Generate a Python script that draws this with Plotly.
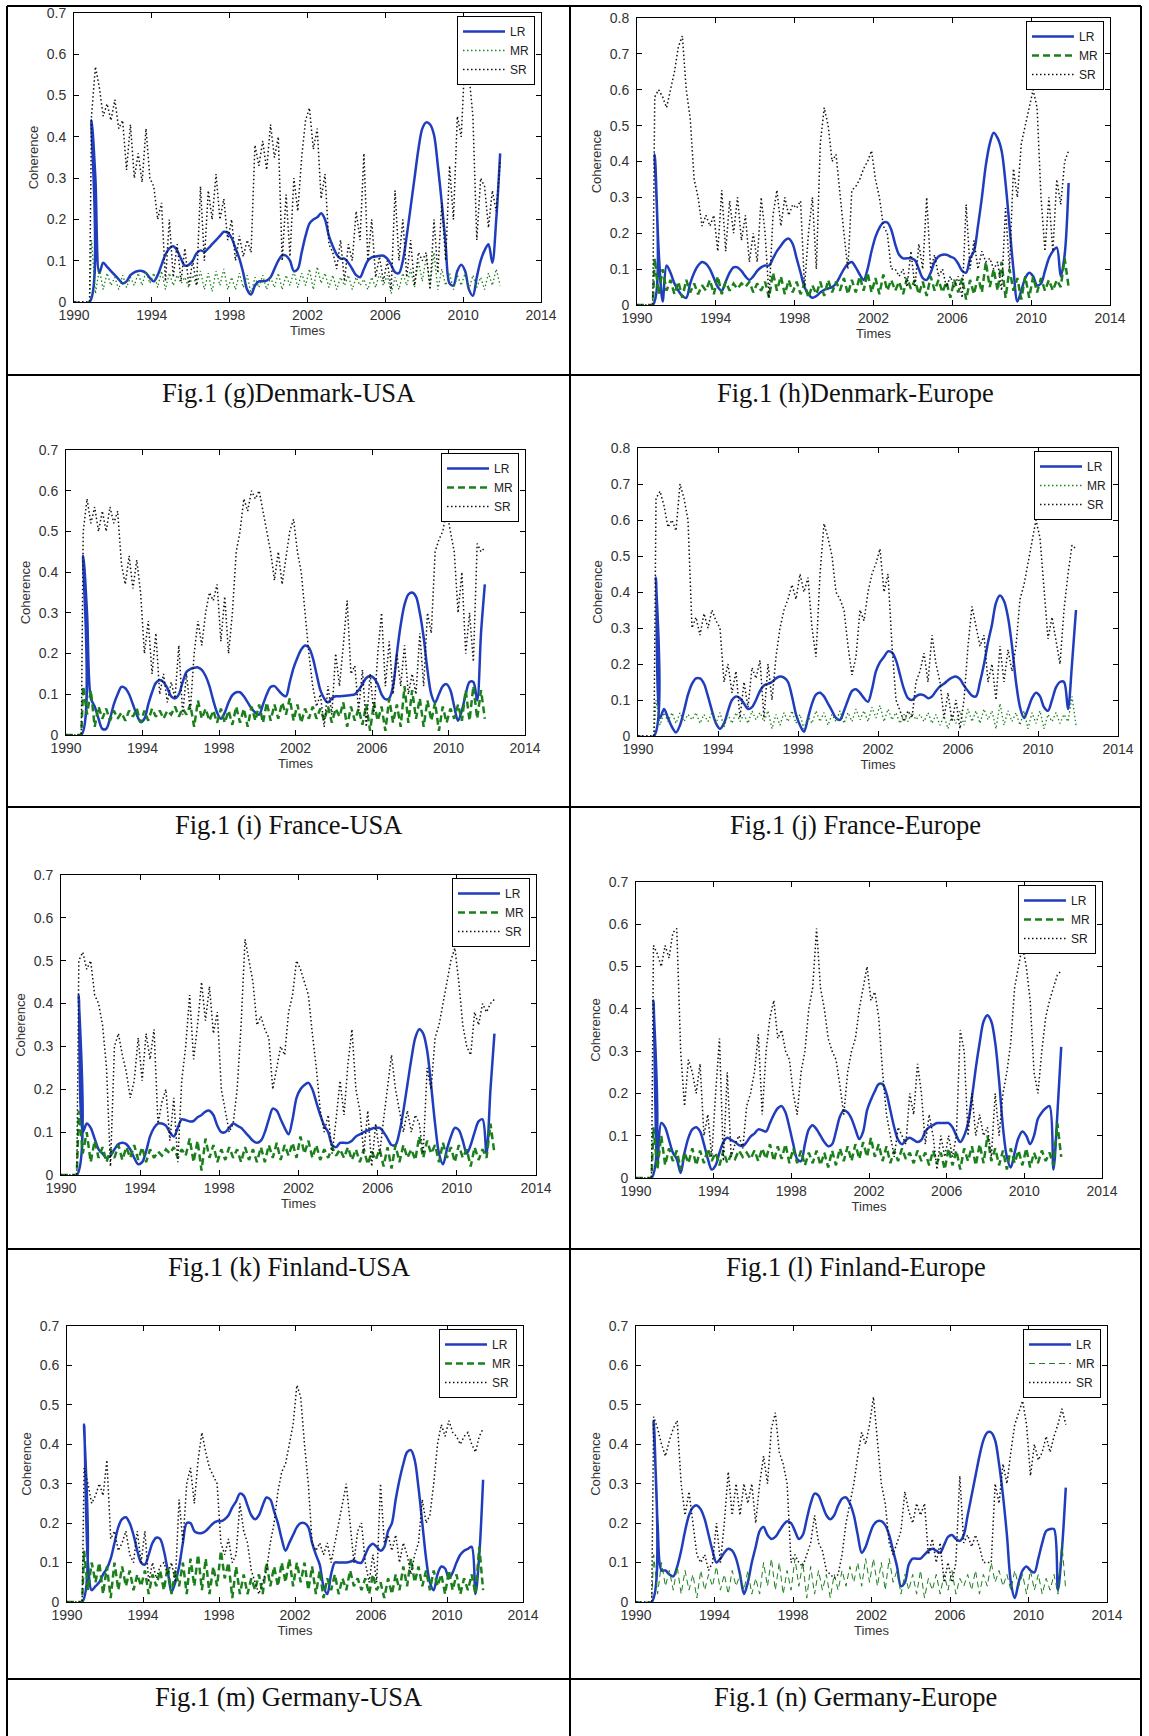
import numpy as np
import plotly.graph_objects as go

# ---- sampling grid (years) shared by every series ----
t = np.round(1990.9 + 0.2 * np.arange(106), 2)
lead_x = [1990.0, 1990.8]     # flat start before the first estimate
lead_y = [0.0, 0.0]

year_ticks = [1990, 1994, 1998, 2002, 2006, 2010, 2014]

captions = [
    "Fig.1 (g)Denmark-USA", "Fig.1 (h)Denmark-Europe",
    "Fig.1 (i) France-USA", "Fig.1 (j) France-Europe",
    "Fig.1 (k) Finland-USA", "Fig.1 (l) Finland-Europe",
    "Fig.1 (m) Germany-USA", "Fig.1 (n) Germany-Europe",
]
y_tops = [0.7, 0.8, 0.7, 0.8, 0.7, 0.7, 0.7, 0.7]

# ---------------- Denmark-USA ----------------
denmark_usa_lr = [0.44,
    0.30, 0.07, 0.095, 0.085, 0.075,  0.065, 0.055, 0.045, 0.05, 0.065,
    0.072, 0.075, 0.075, 0.07, 0.058,  0.05, 0.065, 0.09, 0.115, 0.13,
    0.135, 0.125, 0.105, 0.088, 0.09,  0.1, 0.118, 0.125, 0.122, 0.13,
    0.14, 0.15, 0.16, 0.17, 0.168,  0.155, 0.13, 0.105, 0.07, 0.03,
    0.018, 0.04, 0.05, 0.05, 0.052,  0.06, 0.08, 0.1, 0.113, 0.112,
    0.1, 0.075, 0.08, 0.12, 0.16,  0.19, 0.2, 0.205, 0.215, 0.2,
    0.16, 0.135, 0.115, 0.105, 0.105,  0.095, 0.08, 0.065, 0.06, 0.08,
    0.1, 0.108, 0.11, 0.112, 0.112,  0.105, 0.09, 0.072, 0.07, 0.1,
    0.16, 0.23, 0.3, 0.37, 0.42,  0.435, 0.43, 0.405, 0.33, 0.24,
    0.14, 0.045, 0.04, 0.075, 0.09,  0.075, 0.03, 0.015, 0.06, 0.1,
    0.125, 0.14, 0.095, 0.2, 0.36]
denmark_usa_mr = [0.15,
    0.02, 0.08, 0.03, 0.07, 0.04,  0.06, 0.03, 0.065, 0.035, 0.06,
    0.04, 0.07, 0.04, 0.075, 0.045,  0.07, 0.035, 0.075, 0.03, 0.07,
    0.04, 0.065, 0.045, 0.06, 0.035,  0.065, 0.04, 0.075, 0.03, 0.07,
    0.025, 0.075, 0.04, 0.08, 0.03,  0.06, 0.03, 0.07, 0.035, 0.065,
    0.02, 0.06, 0.035, 0.065, 0.03,  0.06, 0.035, 0.07, 0.03, 0.065,
    0.04, 0.075, 0.035, 0.07, 0.04,  0.08, 0.03, 0.085, 0.045, 0.07,
    0.035, 0.065, 0.03, 0.06, 0.04,  0.065, 0.03, 0.06, 0.04, 0.055,
    0.03, 0.06, 0.035, 0.07, 0.04,  0.065, 0.02, 0.06, 0.03, 0.07,
    0.04, 0.08, 0.035, 0.1, 0.05,  0.11, 0.04, 0.12, 0.03, 0.08,
    0.04, 0.07, 0.03, 0.065, 0.04,  0.07, 0.03, 0.065, 0.035, 0.06,
    0.03, 0.07, 0.04, 0.08, 0.04]
denmark_usa_sr = [0.45,
    0.57, 0.52, 0.45, 0.48, 0.44,  0.49, 0.42, 0.44, 0.32, 0.43,
    0.3, 0.36, 0.29, 0.42, 0.3,  0.28, 0.2, 0.24, 0.05, 0.2,
    0.06, 0.14, 0.05, 0.13, 0.04,  0.1, 0.04, 0.28, 0.1, 0.27,
    0.2, 0.31, 0.2, 0.25, 0.15,  0.2, 0.1, 0.16, 0.11, 0.15,
    0.12, 0.38, 0.33, 0.39, 0.32,  0.43, 0.35, 0.4, 0.1, 0.26,
    0.11, 0.3, 0.22, 0.35, 0.44,  0.47, 0.37, 0.42, 0.25, 0.31,
    0.14, 0.12, 0.08, 0.15, 0.05,  0.14, 0.1, 0.22, 0.15, 0.36,
    0.1, 0.2, 0.06, 0.11, 0.05,  0.1, 0.03, 0.27, 0.1, 0.2,
    0.06, 0.15, 0.04, 0.12, 0.1,  0.12, 0.03, 0.2, 0.07, 0.24,
    0.1, 0.33, 0.2, 0.45, 0.4,  0.6, 0.55, 0.45, 0.15, 0.3,
    0.28, 0.18, 0.27, 0.22, 0.34]

# ---------------- Denmark-Europe ----------------
denmark_europe_lr = [0.42,
    0.15, 0.01, 0.11, 0.09, 0.06,  0.04, 0.025, 0.02, 0.06, 0.09,
    0.11, 0.12, 0.115, 0.1, 0.075,  0.05, 0.04, 0.065, 0.09, 0.105,
    0.105, 0.095, 0.08, 0.07, 0.08,  0.095, 0.105, 0.11, 0.11, 0.13,
    0.15, 0.165, 0.18, 0.185, 0.17,  0.13, 0.09, 0.05, 0.03, 0.02,
    0.025, 0.035, 0.042, 0.046, 0.05,  0.06, 0.08, 0.1, 0.115, 0.12,
    0.105, 0.085, 0.07, 0.1, 0.15,  0.19, 0.215, 0.23, 0.23, 0.21,
    0.17, 0.14, 0.13, 0.13, 0.13,  0.125, 0.1, 0.075, 0.07, 0.09,
    0.12, 0.135, 0.14, 0.14, 0.135,  0.13, 0.115, 0.095, 0.09, 0.13,
    0.15, 0.22, 0.3, 0.39, 0.45,  0.48, 0.465, 0.43, 0.34, 0.22,
    0.1, 0.01, 0.04, 0.075, 0.09,  0.08, 0.055, 0.06, 0.095, 0.13,
    0.15, 0.16, 0.08, 0.14, 0.34]
denmark_europe_mr = [0.13,
    0.03, 0.1, 0.04, 0.07, 0.03,  0.065, 0.02, 0.07, 0.035, 0.06,
    0.03, 0.055, 0.04, 0.07, 0.03,  0.08, 0.03, 0.065, 0.04, 0.06,
    0.045, 0.06, 0.05, 0.065, 0.035,  0.06, 0.04, 0.065, 0.02, 0.09,
    0.04, 0.08, 0.03, 0.07, 0.035,  0.065, 0.03, 0.06, 0.02, 0.055,
    0.03, 0.065, 0.025, 0.07, 0.035,  0.065, 0.04, 0.075, 0.03, 0.07,
    0.035, 0.08, 0.04, 0.09, 0.035,  0.075, 0.03, 0.085, 0.04, 0.07,
    0.04, 0.065, 0.03, 0.075, 0.045,  0.07, 0.03, 0.065, 0.025, 0.08,
    0.04, 0.07, 0.035, 0.065, 0.02,  0.07, 0.035, 0.075, 0.015, 0.07,
    0.03, 0.08, 0.035, 0.12, 0.05,  0.1, 0.04, 0.12, 0.02, 0.1,
    0.04, 0.075, 0.015, 0.08, 0.02,  0.08, 0.035, 0.075, 0.04, 0.07,
    0.04, 0.07, 0.05, 0.13, 0.05]
denmark_europe_sr = [0.58,
    0.6, 0.58, 0.55, 0.6, 0.65,  0.72, 0.75, 0.6, 0.52, 0.35,
    0.3, 0.22, 0.25, 0.22, 0.25,  0.15, 0.32, 0.15, 0.29, 0.2,
    0.3, 0.18, 0.25, 0.12, 0.2,  0.12, 0.3, 0.2, 0.02, 0.25,
    0.32, 0.22, 0.3, 0.25, 0.28,  0.27, 0.29, 0.05, 0.2, 0.3,
    0.1, 0.45, 0.55, 0.5, 0.4,  0.42, 0.3, 0.2, 0.1, 0.32,
    0.33, 0.35, 0.38, 0.4, 0.43,  0.35, 0.3, 0.22, 0.2, 0.1,
    0.1, 0.08, 0.1, 0.05, 0.15,  0.05, 0.17, 0.1, 0.3, 0.1,
    0.14, 0.08, 0.1, 0.05, 0.08,  0.05, 0.08, 0.02, 0.28, 0.1,
    0.18, 0.1, 0.15, 0.12, 0.13,  0.1, 0.12, 0.04, 0.27, 0.1,
    0.38, 0.3, 0.45, 0.5, 0.55,  0.6, 0.55, 0.3, 0.15, 0.3,
    0.15, 0.35, 0.28, 0.4, 0.43]

# ---------------- France-USA ----------------
france_usa_lr = [0.44,
    0.3, 0.09, 0.07, 0.04, 0.015,  0.015, 0.04, 0.075, 0.1, 0.118,
    0.115, 0.1, 0.075, 0.05, 0.032,  0.04, 0.075, 0.105, 0.128, 0.135,
    0.13, 0.115, 0.095, 0.09, 0.1,  0.13, 0.155, 0.162, 0.165, 0.166,
    0.16, 0.145, 0.12, 0.085, 0.055,  0.04, 0.055, 0.08, 0.098, 0.105,
    0.105, 0.095, 0.08, 0.065, 0.055,  0.05, 0.075, 0.1, 0.118, 0.12,
    0.11, 0.1, 0.095, 0.13, 0.165,  0.19, 0.21, 0.22, 0.215, 0.19,
    0.15, 0.11, 0.09, 0.08, 0.09,  0.095, 0.095, 0.096, 0.097, 0.098,
    0.1, 0.11, 0.125, 0.14, 0.145,  0.14, 0.125, 0.1, 0.088, 0.09,
    0.12, 0.2, 0.27, 0.32, 0.345,  0.35, 0.34, 0.3, 0.24, 0.16,
    0.1, 0.08, 0.1, 0.12, 0.125,  0.11, 0.07, 0.035, 0.06, 0.1,
    0.13, 0.13, 0.085, 0.25, 0.37]
france_usa_mr = [0.12,
    0.05, 0.11, 0.02, 0.07, 0.04,  0.065, 0.035, 0.06, 0.04, 0.055,
    0.035, 0.06, 0.045, 0.065, 0.03,  0.06, 0.035, 0.065, 0.045, 0.06,
    0.04, 0.06, 0.05, 0.07, 0.045,  0.065, 0.05, 0.075, 0.02, 0.085,
    0.04, 0.065, 0.035, 0.06, 0.03,  0.065, 0.03, 0.06, 0.025, 0.07,
    0.03, 0.065, 0.02, 0.07, 0.035,  0.075, 0.03, 0.08, 0.035, 0.075,
    0.04, 0.08, 0.05, 0.09, 0.035,  0.075, 0.03, 0.065, 0.04, 0.07,
    0.04, 0.065, 0.035, 0.07, 0.03,  0.065, 0.045, 0.08, 0.02, 0.07,
    0.035, 0.065, 0.025, 0.075, 0.01,  0.08, 0.035, 0.07, 0.01, 0.09,
    0.03, 0.075, 0.02, 0.12, 0.03,  0.11, 0.04, 0.09, 0.02, 0.085,
    0.035, 0.08, 0.01, 0.07, 0.03,  0.065, 0.04, 0.075, 0.035, 0.11,
    0.035, 0.12, 0.04, 0.11, 0.04]
france_usa_sr = [0.5,
    0.58, 0.52, 0.56, 0.5, 0.55,  0.5, 0.56, 0.52, 0.55, 0.42,
    0.37, 0.44, 0.36, 0.43, 0.35,  0.2, 0.28, 0.15, 0.25, 0.1,
    0.15, 0.08, 0.13, 0.09, 0.22,  0.05, 0.15, 0.06, 0.2, 0.28,
    0.22, 0.3, 0.35, 0.33, 0.37,  0.23, 0.34, 0.2, 0.3, 0.45,
    0.5, 0.58, 0.55, 0.6, 0.58,  0.6, 0.55, 0.5, 0.45, 0.38,
    0.45, 0.37, 0.44, 0.5, 0.53,  0.45, 0.4, 0.3, 0.2, 0.12,
    0.07, 0.1, 0.02, 0.12, 0.05,  0.2, 0.12, 0.22, 0.33, 0.15,
    0.17, 0.06, 0.16, 0.02, 0.15,  0.05, 0.2, 0.3, 0.12, 0.23,
    0.1, 0.2, 0.12, 0.22, 0.1,  0.15, 0.1, 0.25, 0.12, 0.3,
    0.25, 0.45, 0.48, 0.5, 0.55,  0.5, 0.45, 0.3, 0.4, 0.2,
    0.3, 0.18, 0.47, 0.45, 0.46]

# ---------------- France-Europe ----------------
france_europe_lr = [0.44,
    0.05, 0.075, 0.05, 0.025, 0.01,  0.03, 0.07, 0.115, 0.145, 0.16,
    0.16, 0.145, 0.11, 0.07, 0.035,  0.02, 0.035, 0.07, 0.1, 0.11,
    0.105, 0.09, 0.075, 0.08, 0.1,  0.125, 0.14, 0.145, 0.15, 0.16,
    0.165, 0.162, 0.15, 0.11, 0.06,  0.03, 0.012, 0.05, 0.09, 0.115,
    0.12, 0.11, 0.09, 0.07, 0.05,  0.045, 0.07, 0.1, 0.125, 0.13,
    0.12, 0.105, 0.095, 0.13, 0.18,  0.205, 0.22, 0.235, 0.232, 0.21,
    0.17, 0.13, 0.105, 0.1, 0.11,  0.115, 0.113, 0.105, 0.11, 0.125,
    0.138, 0.145, 0.155, 0.162, 0.165,  0.158, 0.14, 0.125, 0.112, 0.11,
    0.15, 0.2, 0.26, 0.31, 0.37,  0.39, 0.375, 0.33, 0.25, 0.15,
    0.08, 0.05, 0.075, 0.105, 0.12,  0.11, 0.08, 0.07, 0.1, 0.135,
    0.15, 0.15, 0.075, 0.2, 0.35]
france_europe_mr = [0.1,
    0.03, 0.065, 0.04, 0.065, 0.035,  0.065, 0.04, 0.06, 0.045, 0.065,
    0.035, 0.06, 0.04, 0.065, 0.035,  0.065, 0.025, 0.06, 0.035, 0.065,
    0.04, 0.06, 0.035, 0.07, 0.045,  0.065, 0.04, 0.07, 0.02, 0.06,
    0.03, 0.065, 0.04, 0.07, 0.035,  0.06, 0.02, 0.055, 0.035, 0.07,
    0.04, 0.065, 0.03, 0.06, 0.04,  0.07, 0.035, 0.065, 0.04, 0.075,
    0.045, 0.07, 0.04, 0.08, 0.05,  0.085, 0.04, 0.075, 0.045, 0.065,
    0.035, 0.06, 0.04, 0.065, 0.045,  0.06, 0.04, 0.065, 0.035, 0.06,
    0.03, 0.055, 0.02, 0.06, 0.035,  0.07, 0.03, 0.075, 0.04, 0.07,
    0.035, 0.075, 0.045, 0.07, 0.02,  0.09, 0.03, 0.07, 0.04, 0.065,
    0.03, 0.07, 0.02, 0.065, 0.035,  0.07, 0.02, 0.06, 0.04, 0.065,
    0.035, 0.06, 0.04, 0.11, 0.03]
france_europe_sr = [0.66,
    0.68, 0.64, 0.58, 0.6, 0.57,  0.7, 0.66, 0.6, 0.3, 0.33,
    0.28, 0.34, 0.3, 0.35, 0.32,  0.3, 0.15, 0.2, 0.12, 0.18,
    0.05, 0.15, 0.08, 0.19, 0.16,  0.21, 0.05, 0.2, 0.1, 0.22,
    0.3, 0.35, 0.38, 0.42, 0.38,  0.45, 0.4, 0.44, 0.3, 0.22,
    0.45, 0.59, 0.55, 0.5, 0.4,  0.38, 0.35, 0.25, 0.17, 0.22,
    0.35, 0.32, 0.4, 0.45, 0.48,  0.52, 0.4, 0.45, 0.25, 0.1,
    0.07, 0.04, 0.07, 0.05, 0.15,  0.18, 0.23, 0.15, 0.28, 0.2,
    0.15, 0.05, 0.12, 0.04, 0.1,  0.02, 0.1, 0.25, 0.36, 0.3,
    0.25, 0.28, 0.15, 0.2, 0.1,  0.25, 0.15, 0.24, 0.18, 0.25,
    0.38, 0.42, 0.48, 0.55, 0.6,  0.55, 0.4, 0.27, 0.33, 0.26,
    0.2, 0.35, 0.45, 0.53, 0.52]

# ---------------- Finland-USA ----------------
finland_usa_lr = [0.42,
    0.1, 0.12, 0.11, 0.085, 0.06,  0.05, 0.04, 0.045, 0.06, 0.072,
    0.075, 0.072, 0.06, 0.04, 0.025,  0.03, 0.055, 0.09, 0.11, 0.12,
    0.12, 0.115, 0.1, 0.09, 0.11,  0.13, 0.128, 0.125, 0.126, 0.135,
    0.14, 0.148, 0.15, 0.14, 0.115,  0.1, 0.1, 0.11, 0.12, 0.115,
    0.11, 0.1, 0.09, 0.08, 0.075,  0.08, 0.1, 0.13, 0.155, 0.15,
    0.13, 0.11, 0.095, 0.13, 0.18,  0.2, 0.21, 0.215, 0.2, 0.17,
    0.14, 0.115, 0.1, 0.07, 0.065,  0.075, 0.075, 0.075, 0.08, 0.09,
    0.095, 0.1, 0.104, 0.108, 0.11,  0.11, 0.1, 0.085, 0.07, 0.07,
    0.1, 0.15, 0.21, 0.27, 0.32,  0.34, 0.33, 0.29, 0.21, 0.12,
    0.05, 0.025, 0.06, 0.09, 0.11,  0.105, 0.08, 0.05, 0.07, 0.1,
    0.125, 0.13, 0.05, 0.2, 0.33]
finland_usa_mr = [0.15,
    0.05, 0.1, 0.03, 0.08, 0.04,  0.065, 0.03, 0.06, 0.04, 0.07,
    0.035, 0.065, 0.04, 0.07, 0.035,  0.065, 0.03, 0.06, 0.04, 0.055,
    0.045, 0.06, 0.05, 0.065, 0.04,  0.06, 0.045, 0.085, 0.03, 0.08,
    0.01, 0.085, 0.04, 0.07, 0.03,  0.06, 0.035, 0.065, 0.04, 0.06,
    0.03, 0.065, 0.035, 0.06, 0.03,  0.065, 0.03, 0.07, 0.04, 0.075,
    0.035, 0.07, 0.045, 0.075, 0.04,  0.09, 0.05, 0.08, 0.04, 0.07,
    0.035, 0.06, 0.04, 0.065, 0.045,  0.06, 0.04, 0.065, 0.035, 0.06,
    0.03, 0.06, 0.025, 0.055, 0.035,  0.06, 0.02, 0.065, 0.015, 0.07,
    0.03, 0.07, 0.04, 0.06, 0.035,  0.09, 0.04, 0.08, 0.05, 0.07,
    0.03, 0.075, 0.04, 0.065, 0.03,  0.07, 0.04, 0.06, 0.02, 0.065,
    0.035, 0.06, 0.04, 0.12, 0.05]
finland_usa_sr = [0.5,
    0.52, 0.48, 0.5, 0.42, 0.4,  0.35, 0.25, 0.02, 0.3, 0.33,
    0.28, 0.24, 0.18, 0.22, 0.32,  0.22, 0.33, 0.27, 0.34, 0.12,
    0.17, 0.2, 0.08, 0.18, 0.03,  0.22, 0.3, 0.42, 0.27, 0.35,
    0.45, 0.36, 0.44, 0.33, 0.38,  0.2, 0.15, 0.1, 0.12, 0.2,
    0.35, 0.55, 0.5, 0.45, 0.35,  0.37, 0.34, 0.32, 0.2, 0.25,
    0.3, 0.28, 0.38, 0.42, 0.5,  0.48, 0.45, 0.42, 0.33, 0.25,
    0.15, 0.1, 0.14, 0.05, 0.13,  0.22, 0.14, 0.26, 0.34, 0.2,
    0.15, 0.05, 0.15, 0.02, 0.12,  0.05, 0.13, 0.2, 0.28, 0.2,
    0.15, 0.1, 0.15, 0.1, 0.14,  0.12, 0.05, 0.25, 0.2, 0.32,
    0.35, 0.4, 0.45, 0.5, 0.53,  0.45, 0.35, 0.3, 0.28, 0.38,
    0.35, 0.4, 0.38, 0.4, 0.41]

# ---------------- Finland-Europe ----------------
finland_europe_lr = [0.42,
    0.03, 0.13, 0.12, 0.09, 0.06,  0.045, 0.012, 0.06, 0.095, 0.115,
    0.12, 0.11, 0.08, 0.045, 0.02,  0.03, 0.06, 0.085, 0.095, 0.09,
    0.085, 0.078, 0.075, 0.085, 0.098,  0.105, 0.115, 0.113, 0.11, 0.13,
    0.15, 0.165, 0.17, 0.155, 0.12,  0.08, 0.045, 0.04, 0.08, 0.115,
    0.125, 0.115, 0.1, 0.085, 0.075,  0.08, 0.11, 0.145, 0.16, 0.155,
    0.14, 0.115, 0.092, 0.11, 0.16,  0.185, 0.205, 0.222, 0.222, 0.2,
    0.16, 0.12, 0.09, 0.08, 0.09,  0.095, 0.09, 0.085, 0.09, 0.11,
    0.12, 0.125, 0.13, 0.13, 0.13,  0.13, 0.12, 0.1, 0.085, 0.1,
    0.13, 0.19, 0.26, 0.32, 0.37,  0.385, 0.37, 0.32, 0.23, 0.12,
    0.05, 0.025, 0.06, 0.095, 0.11,  0.1, 0.08, 0.1, 0.14, 0.155,
    0.165, 0.17, 0.02, 0.15, 0.31]
finland_europe_mr = [0.12,
    0.02, 0.1, 0.03, 0.07, 0.04,  0.065, 0.02, 0.06, 0.035, 0.07,
    0.03, 0.065, 0.035, 0.07, 0.04,  0.06, 0.03, 0.065, 0.035, 0.055,
    0.045, 0.065, 0.05, 0.06, 0.045,  0.065, 0.04, 0.07, 0.045, 0.08,
    0.04, 0.075, 0.045, 0.08, 0.035,  0.07, 0.035, 0.065, 0.03, 0.06,
    0.035, 0.065, 0.03, 0.06, 0.025,  0.065, 0.03, 0.07, 0.04, 0.075,
    0.04, 0.08, 0.045, 0.085, 0.05,  0.095, 0.05, 0.08, 0.04, 0.075,
    0.035, 0.065, 0.04, 0.07, 0.045,  0.06, 0.035, 0.065, 0.04, 0.06,
    0.03, 0.065, 0.035, 0.06, 0.02,  0.07, 0.03, 0.065, 0.02, 0.07,
    0.04, 0.075, 0.03, 0.08, 0.035,  0.1, 0.04, 0.07, 0.03, 0.065,
    0.02, 0.07, 0.035, 0.065, 0.03,  0.07, 0.025, 0.06, 0.035, 0.065,
    0.04, 0.06, 0.03, 0.13, 0.05]
finland_europe_sr = [0.55,
    0.53, 0.5, 0.55, 0.52, 0.58,  0.59, 0.3, 0.17, 0.28, 0.25,
    0.2, 0.27, 0.1, 0.15, 0.05,  0.2, 0.33, 0.04, 0.25, 0.05,
    0.08, 0.1, 0.07, 0.17, 0.2,  0.25, 0.34, 0.15, 0.3, 0.38,
    0.42, 0.33, 0.35, 0.3, 0.28,  0.2, 0.15, 0.25, 0.3, 0.4,
    0.45, 0.59, 0.45, 0.4, 0.33,  0.3, 0.28, 0.22, 0.15, 0.25,
    0.3, 0.33, 0.4, 0.45, 0.5,  0.42, 0.44, 0.38, 0.25, 0.15,
    0.1, 0.05, 0.12, 0.1, 0.08,  0.2, 0.15, 0.27, 0.2, 0.08,
    0.15, 0.1, 0.02, 0.1, 0.05,  0.1, 0.05, 0.1, 0.35, 0.3,
    0.1, 0.2, 0.1, 0.15, 0.1,  0.12, 0.05, 0.2, 0.1, 0.2,
    0.25, 0.32, 0.45, 0.5, 0.55,  0.5, 0.42, 0.25, 0.2, 0.3,
    0.38, 0.42, 0.45, 0.48, 0.49]

# ---------------- Germany-USA ----------------
germany_usa_lr = [0.45,
    0.1, 0.03, 0.04, 0.05, 0.07,  0.085, 0.11, 0.15, 0.19, 0.21,
    0.215, 0.2, 0.17, 0.13, 0.1,  0.095, 0.12, 0.15, 0.163, 0.16,
    0.13, 0.08, 0.025, 0.05, 0.09,  0.15, 0.2, 0.2, 0.18, 0.175,
    0.175, 0.18, 0.19, 0.2, 0.205,  0.205, 0.21, 0.22, 0.24, 0.255,
    0.275, 0.27, 0.245, 0.22, 0.21,  0.22, 0.245, 0.265, 0.26, 0.23,
    0.2, 0.16, 0.13, 0.15, 0.17,  0.19, 0.2, 0.2, 0.19, 0.15,
    0.12, 0.095, 0.04, 0.02, 0.07,  0.1, 0.1, 0.1, 0.1, 0.102,
    0.105, 0.1, 0.1, 0.12, 0.14,  0.148, 0.14, 0.13, 0.14, 0.18,
    0.2, 0.26, 0.31, 0.35, 0.38,  0.385, 0.36, 0.29, 0.2, 0.11,
    0.05, 0.03, 0.07, 0.09, 0.085,  0.06, 0.075, 0.1, 0.12, 0.13,
    0.135, 0.14, 0.02, 0.12, 0.31]
germany_usa_mr = [0.13,
    0.03, 0.1, 0.05, 0.1, 0.02,  0.09, 0.01, 0.1, 0.03, 0.09,
    0.04, 0.08, 0.03, 0.07, 0.04,  0.08, 0.02, 0.07, 0.04, 0.08,
    0.03, 0.09, 0.02, 0.08, 0.04,  0.1, 0.02, 0.11, 0.04, 0.12,
    0.03, 0.11, 0.02, 0.09, 0.04,  0.13, 0.06, 0.1, 0.01, 0.09,
    0.02, 0.07, 0.02, 0.06, 0.03,  0.07, 0.02, 0.1, 0.04, 0.09,
    0.04, 0.1, 0.05, 0.11, 0.04,  0.1, 0.05, 0.1, 0.03, 0.09,
    0.02, 0.08, 0.01, 0.06, 0.03,  0.07, 0.02, 0.06, 0.03, 0.08,
    0.04, 0.06, 0.03, 0.06, 0.02,  0.07, 0.03, 0.05, 0.01, 0.06,
    0.02, 0.07, 0.03, 0.09, 0.04,  0.11, 0.05, 0.09, 0.04, 0.08,
    0.03, 0.08, 0.04, 0.07, 0.02,  0.08, 0.03, 0.07, 0.02, 0.06,
    0.03, 0.07, 0.02, 0.14, 0.03]
germany_usa_sr = [0.34,
    0.3, 0.25, 0.27, 0.3, 0.27,  0.36, 0.16, 0.18, 0.13, 0.15,
    0.18, 0.12, 0.1, 0.18, 0.1,  0.18, 0.05, 0.1, 0.06, 0.09,
    0.1, 0.07, 0.1, 0.05, 0.26,  0.15, 0.3, 0.34, 0.25, 0.36,
    0.43, 0.38, 0.34, 0.32, 0.3,  0.15, 0.12, 0.16, 0.1, 0.12,
    0.25, 0.18, 0.15, 0.08, 0.05,  0.02, 0.05, 0.08, 0.15, 0.2,
    0.28, 0.33, 0.35, 0.4, 0.45,  0.55, 0.52, 0.4, 0.3, 0.15,
    0.13, 0.15, 0.12, 0.15, 0.1,  0.15, 0.2, 0.25, 0.3, 0.2,
    0.1, 0.18, 0.2, 0.1, 0.05,  0.12, 0.05, 0.3, 0.15, 0.17,
    0.13, 0.17, 0.1, 0.15, 0.12,  0.07, 0.12, 0.15, 0.26, 0.2,
    0.22, 0.3, 0.4, 0.45, 0.42,  0.46, 0.43, 0.42, 0.4, 0.42,
    0.43, 0.4, 0.38, 0.42, 0.44]

# ---------------- Germany-Europe ----------------
germany_europe_lr = [0.46,
    0.2, 0.08, 0.08, 0.07, 0.065,  0.09, 0.13, 0.18, 0.22, 0.24,
    0.245, 0.235, 0.21, 0.17, 0.13,  0.1, 0.11, 0.125, 0.135, 0.13,
    0.11, 0.07, 0.02, 0.05, 0.1,  0.14, 0.18, 0.19, 0.17, 0.16,
    0.165, 0.18, 0.195, 0.205, 0.2,  0.18, 0.16, 0.17, 0.21, 0.25,
    0.275, 0.27, 0.245, 0.22, 0.21,  0.22, 0.245, 0.262, 0.265, 0.25,
    0.22, 0.17, 0.125, 0.14, 0.17,  0.195, 0.205, 0.205, 0.195, 0.17,
    0.13, 0.09, 0.04, 0.05, 0.095,  0.11, 0.11, 0.11, 0.12, 0.13,
    0.135, 0.13, 0.125, 0.145, 0.165,  0.17, 0.16, 0.155, 0.17, 0.22,
    0.27, 0.32, 0.37, 0.41, 0.43,  0.43, 0.41, 0.35, 0.27, 0.17,
    0.05, 0.01, 0.05, 0.08, 0.09,  0.08, 0.075, 0.11, 0.15, 0.18,
    0.185, 0.185, 0.03, 0.13, 0.29]
germany_europe_mr = [0.12,
    0.02, 0.1, 0.04, 0.08, 0.03,  0.09, 0.02, 0.08, 0.03, 0.07,
    0.01, 0.08, 0.03, 0.07, 0.04,  0.09, 0.03, 0.07, 0.02, 0.08,
    0.04, 0.07, 0.03, 0.08, 0.02,  0.06, 0.02, 0.1, 0.04, 0.11,
    0.03, 0.1, 0.02, 0.08, 0.03,  0.11, 0.04, 0.1, 0.01, 0.09,
    0.02, 0.08, 0.03, 0.07, 0.01,  0.07, 0.03, 0.08, 0.04, 0.09,
    0.05, 0.1, 0.04, 0.11, 0.05,  0.11, 0.04, 0.1, 0.03, 0.11,
    0.05, 0.08, 0.02, 0.07, 0.03,  0.07, 0.02, 0.08, 0.01, 0.06,
    0.03, 0.07, 0.02, 0.07, 0.03,  0.08, 0.02, 0.06, 0.04, 0.07,
    0.03, 0.08, 0.02, 0.07, 0.04,  0.1, 0.05, 0.08, 0.04, 0.07,
    0.03, 0.08, 0.04, 0.07, 0.02,  0.08, 0.03, 0.07, 0.02, 0.06,
    0.03, 0.07, 0.02, 0.15, 0.03]
germany_europe_sr = [0.47,
    0.44, 0.4, 0.37, 0.41, 0.44,  0.46, 0.3, 0.22, 0.28, 0.2,
    0.12, 0.1, 0.12, 0.08, 0.1,  0.2, 0.1, 0.2, 0.33, 0.22,
    0.3, 0.22, 0.3, 0.25, 0.3,  0.2, 0.3, 0.37, 0.3, 0.44,
    0.48, 0.38, 0.35, 0.3, 0.1,  0.12, 0.1, 0.09, 0.12, 0.15,
    0.22, 0.15, 0.13, 0.08, 0.07,  0.06, 0.07, 0.12, 0.2, 0.25,
    0.3, 0.37, 0.43, 0.4, 0.45,  0.52, 0.4, 0.3, 0.25, 0.15,
    0.12, 0.15, 0.18, 0.28, 0.23,  0.2, 0.25, 0.22, 0.25, 0.12,
    0.16, 0.1, 0.15, 0.05, 0.1,  0.05, 0.1, 0.32, 0.15, 0.17,
    0.14, 0.17, 0.14, 0.1, 0.1,  0.1, 0.3, 0.25, 0.35, 0.3,
    0.38, 0.45, 0.48, 0.51, 0.45,  0.32, 0.4, 0.36, 0.38, 0.42,
    0.38, 0.42, 0.45, 0.49, 0.45]

lr_series = [denmark_usa_lr, denmark_europe_lr, france_usa_lr, france_europe_lr,
             finland_usa_lr, finland_europe_lr, germany_usa_lr, germany_europe_lr]
mr_series = [denmark_usa_mr, denmark_europe_mr, france_usa_mr, france_europe_mr,
             finland_usa_mr, finland_europe_mr, germany_usa_mr, germany_europe_mr]
sr_series = [denmark_usa_sr, denmark_europe_sr, france_usa_sr, france_europe_sr,
             finland_usa_sr, finland_europe_sr, germany_usa_sr, germany_europe_sr]
for s in lr_series + mr_series + sr_series:
    assert len(s) == len(t), len(s)

# ---------------- page geometry (pixels) ----------------
W, H = 1149, 1736
# plot boxes: left, right, top, bottom
boxes = [(74, 541, 13, 302), (637, 1110, 18, 305),
         (66, 525, 450, 735), (638, 1118, 448, 736),
         (61, 536, 875, 1175), (636, 1102, 882, 1178),
         (67, 523, 1326, 1602), (636, 1107, 1326, 1602)]
# MR line style per panel: thick dashed, thin dotted or thin dashed
mr_styles = ["dot", "dash", "dash", "dot", "dash", "dash", "dash", "thin"]

BLUE = "#1f3dbd"
GREEN = "#1b801b"
SANS = "Liberation Sans, Arial, sans-serif"

def px_x(v):
    return v / W

def px_y(v):
    return 1 - v / H

fig = go.Figure()
layout = dict(
    width=W, height=H, margin=dict(l=0, r=0, t=0, b=0), autosize=False,
    paper_bgcolor="white", plot_bgcolor="white", hovermode=False,
    font=dict(family=SANS, size=12, color="#222"),
)

x_all = lead_x + list(t)
for i, (L, R, T, B) in enumerate(boxes):
    n = i + 1
    sfx = "" if n == 1 else str(n)
    leg = "legend" if n == 1 else f"legend{n}"

    fig.add_trace(go.Scatter(
        x=x_all, y=lead_y + lr_series[i], name="LR", mode="lines",
        line=dict(color=BLUE, width=2.5, shape="spline", smoothing=0.9),
        xaxis="x" + sfx, yaxis="y" + sfx, legend=leg))
    st = mr_styles[i]
    if st == "dash":
        mr_line = dict(color=GREEN, width=2.5, dash="7px,4px")
    elif st == "thin":
        mr_line = dict(color=GREEN, width=1, dash="6px,4px")
    else:
        mr_line = dict(color=GREEN, width=1.3, dash="1.5px,2.5px")
    fig.add_trace(go.Scatter(
        x=x_all, y=lead_y + mr_series[i], name="MR", mode="lines",
        line=mr_line, xaxis="x" + sfx, yaxis="y" + sfx, legend=leg))
    fig.add_trace(go.Scatter(
        x=x_all, y=lead_y + sr_series[i], name="SR", mode="lines",
        line=dict(color="#111", width=1.5, dash="1.5px,2.5px"),
        xaxis="x" + sfx, yaxis="y" + sfx, legend=leg))

    axis_common = dict(
        showline=True, linecolor="black", linewidth=1, mirror="ticks",
        ticks="inside", ticklen=5, tickcolor="black", showgrid=False,
        zeroline=False, automargin=False,
        tickfont=dict(family=SANS, size=14, color="#333"),
    )
    layout["xaxis" + sfx] = dict(
        axis_common, domain=[px_x(L), px_x(R)], anchor="y" + sfx,
        range=[1990, 2014], tickvals=year_ticks,
        title=dict(text="Times", standoff=2, font=dict(size=13, color="#333")),
    )
    ytop = y_tops[i]
    layout["yaxis" + sfx] = dict(
        axis_common, domain=[px_y(B), px_y(T)], anchor="x" + sfx,
        range=[0, ytop], dtick=0.1, tick0=0, ticklabelstandoff=4,
        title=dict(text="Coherence", standoff=5, font=dict(size=13, color="#333")),
    )
    layout[leg] = dict(
        x=px_x(R - 6), y=px_y(T + 3), xanchor="right", yanchor="top",
        bgcolor="white", bordercolor="black", borderwidth=1,
        font=dict(family=SANS, size=12, color="#222"),
        tracegroupgap=0, itemwidth=42,
    )

# ---------------- table rules and captions ----------------
rule_rows = [6, 375, 807, 1249, 1679]
rule_cols = [7, 570, 1141]
shapes = []
for yy in rule_rows:
    shapes.append(dict(type="line", xref="paper", yref="paper",
                       x0=px_x(rule_cols[0]), x1=px_x(rule_cols[-1]),
                       y0=px_y(yy), y1=px_y(yy),
                       line=dict(color="black", width=2)))
for xx in rule_cols:
    shapes.append(dict(type="line", xref="paper", yref="paper",
                       x0=px_x(xx), x1=px_x(xx), y0=px_y(rule_rows[0]), y1=0,
                       line=dict(color="black", width=2)))

annotations = []
cap_centers = [(rule_cols[0] + rule_cols[1]) / 2, (rule_cols[1] + rule_cols[2]) / 2]
for i, text in enumerate(captions):
    row = i // 2
    annotations.append(dict(
        text=text, xref="paper", yref="paper", showarrow=False,
        x=px_x(cap_centers[i % 2]), y=px_y(rule_rows[row + 1] + 18),
        xanchor="center", yanchor="middle",
        font=dict(family="Liberation Serif, Times New Roman, serif", size=26.5, color="#111"),
    ))

layout["shapes"] = shapes
layout["annotations"] = annotations
fig.update_layout(**layout)
fig.write_html("out.html")
